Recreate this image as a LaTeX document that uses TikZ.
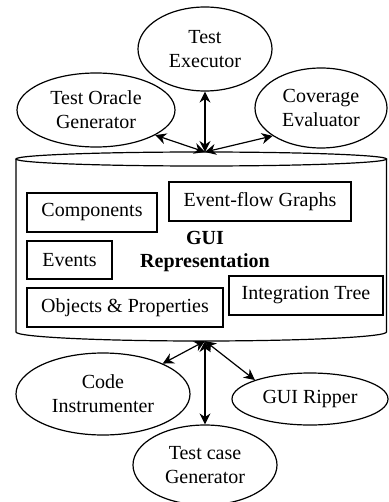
\documentclass[tikz,border=0pt]{standalone}
\usepackage{fontspec}
\setmainfont{Liberation Serif}
\usetikzlibrary{shapes.geometric,arrows.meta}
\begin{document}
\begin{tikzpicture}[x=0.5pt,y=-0.5pt,
  line width=0.6pt,
  every node/.style={font=\fontsize{10}{12}\selectfont},
  oval/.style={draw, ellipse, line width=0.6pt, inner sep=0pt, align=center},
  item/.style={draw, rectangle, line width=0.6pt, inner sep=0pt},
  tip/.style={Stealth[length=5.5pt,width=5.5pt,inset=1.8pt]},
  link/.style={{Stealth[length=5.5pt,width=5.5pt,inset=1.8pt]}-{Stealth[length=5.5pt,width=5.5pt,inset=1.8pt]}, line width=0.6pt}]
\useasboundingbox (0,0) rectangle (388,502);

% cylinder (GUI representation store)
\draw (201.25,159) ellipse[x radius=92.625pt, y radius=3.5pt];
\draw (16,159) -- (16,332) arc[start angle=180, end angle=360, x radius=92.625pt, y radius=4.5pt] -- (386.5,159);
\coordinate (hubT) at (205,152);
\coordinate (hubB) at (205,341);

% tools
\node[oval, minimum width=67pt, minimum height=42pt] (exec) at (205,49) {Test\\Executor};
\node[oval, minimum width=79pt, minimum height=37pt] (oracle) at (96,110) {Test Oracle\\Generator};
\node[oval, minimum width=66pt, minimum height=40pt] (cov) at (321,108) {Coverage\\Evaluator};
\node[oval, minimum width=87pt, minimum height=41pt] (code) at (103,394) {Code\\Instrumenter};
\node[oval, minimum width=78pt, minimum height=26pt] (rip) at (310,399) {GUI Ripper};
\node[oval, minimum width=72pt, minimum height=40pt] (tcg) at (205,465) {Test case\\Generator};

% contents
\node[item, minimum width=65pt, minimum height=19.5pt] (comp) at (92,212.5) {Components};
\node[item, minimum width=91pt, minimum height=19.5pt] (efg) at (260,201.5) {Event-flow Graphs};
\node[item, minimum width=42.5pt, minimum height=19pt] (ev) at (69.5,260) {Events};
\node[item, minimum width=77pt, minimum height=19.5pt] (itree) at (306,295.5) {Integration Tree};
\node[item, minimum width=98pt, minimum height=19.5pt] (obj) at (125,307.5) {Objects \& Properties};
\node[align=center, font=\fontsize{10}{11.5}\selectfont\bfseries] (rep) at (205,251.5) {GUI\\Representation};

% connectors
\draw[link] (exec) -- (hubT);
\draw[link] (oracle.337) -- (hubT);
\draw[link] (cov.210) -- (hubT);
\draw[link] (hubB) -- (code.27);
\draw[link] (hubB) -- (tcg);
\draw[link] (hubB) -- (rip.161);
\end{tikzpicture}
\end{document}
